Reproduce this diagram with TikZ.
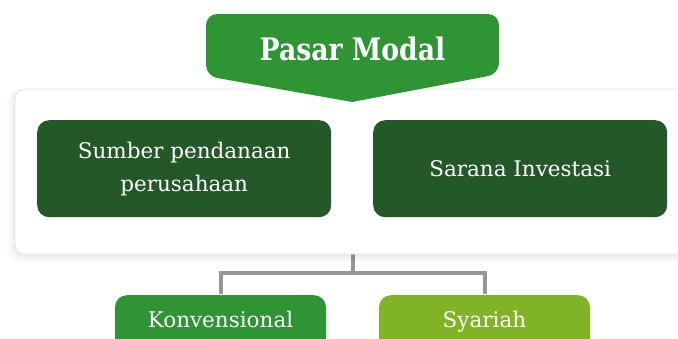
\documentclass[tikz,border=0pt]{standalone}
\usepackage{fontspec}
\setmainfont{DejaVu Serif}
\newfontfamily\headfont{DejaVu Serif}[FakeStretch=0.86]
\usetikzlibrary{backgrounds}
\definecolor{leafgreen}{RGB}{47,148,52}
\definecolor{forestgreen}{RGB}{36,88,41}
\definecolor{limegreen}{RGB}{128,180,38}
\definecolor{linkgray}{RGB}{150,150,150}
\definecolor{panelborder}{RGB}{230,230,230}
\tikzset{
  x=1pt, y=-1pt,
  panelbox/.style={draw=panelborder, line width=0.8pt, fill=white, rounded corners=10pt,
    minimum width=675pt, minimum height=165pt, inner sep=0pt},
  topicbox/.style={fill=forestgreen, rounded corners=12pt, text=white,
    minimum width=294pt, minimum height=97pt, inner sep=0pt, align=center,
    font=\fontsize{21.5}{33}\selectfont},
  kindbox/.style={rounded corners=12pt, text=white, minimum width=211pt,
    inner xsep=0pt, inner ysep=9pt, text height=23pt, text depth=19pt,
    font=\fontsize{21.5}{26}\selectfont},
  link/.style={draw=linkgray, line width=4pt},
  titletext/.style={text=white, font=\headfont\bfseries\fontsize{31}{36}\selectfont, inner sep=0pt}
}
\begin{document}
\begin{tikzpicture}
\useasboundingbox (0,0) rectangle (678,338);

% soft shadow under the panel
\foreach \s/\o in {8/0.012,6/0.016,4/0.02,2/0.025}{
  \fill[black, opacity=\o, rounded corners=12pt] (15-\s,89) rectangle (700,254+\s+1);
}

% white panel holding the two topic boxes
\node[panelbox] (panel) at (352.5,171.5) {};

% title banner with a pointed bottom edge
\fill[leafgreen] [rounded corners=11pt] (352,14) -- (499,14) -- (499,74)
  [sharp corners] -- (352,102) [rounded corners=11pt] -- (206,76) -- (206,14) -- cycle;
\node[titletext, anchor=base] (title) at (352.5,60) {Pasar Modal};

% topic boxes
\node[topicbox, anchor=north west] (sumber) at (37,120) {Sumber pendanaan\\perusahaan};
\node[topicbox, anchor=north west] (sarana) at (373,120) {Sarana Investasi};

% kind boxes
\node[kindbox, fill=leafgreen, anchor=north] (konv) at (220.5,295) {Konvensional};
\node[kindbox, fill=limegreen, anchor=north] (syar) at (484.5,295) {Syariah};

% branch point below the panel
\coordinate (fork) at (352.5,273);

% page background and the connectors, kept behind the boxes
\begin{scope}[on background layer]
\fill[white] (0,0) rectangle (678,338);
\draw[link] (panel.south) -- (fork) -| ([yshift=1pt]konv.north);
\draw[link] (fork) -| ([yshift=1pt]syar.north);
\end{scope}
\end{tikzpicture}
\end{document}
